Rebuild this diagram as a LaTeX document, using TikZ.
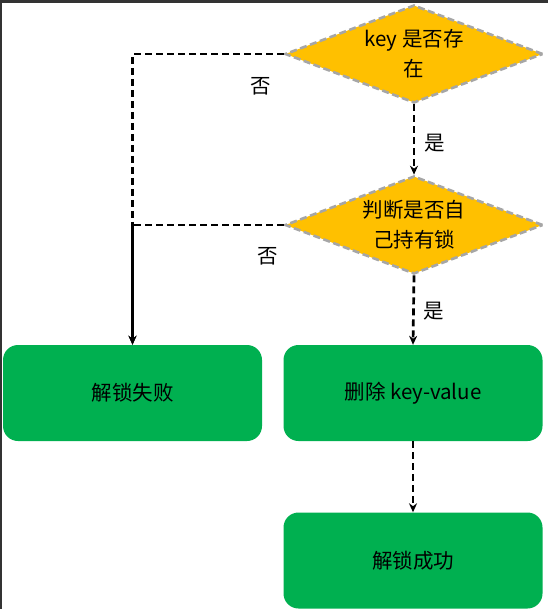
\documentclass[tikz,border=0pt]{standalone}
\usepackage{fontspec}
\setmainfont{Noto Sans CJK SC}
\usetikzlibrary{shapes.geometric,arrows.meta}
\definecolor{gold}{HTML}{FFC000}
\definecolor{grn}{HTML}{00B050}
\definecolor{dgray}{HTML}{A6A6A6}
\definecolor{framec}{HTML}{333333}
\begin{document}
\begin{tikzpicture}[x=1pt,y=-1pt,
  every node/.style={font=\fontsize{20.5pt}{30pt}\selectfont},
  decision/.style={diamond, aspect=2.63, inner sep=0pt, fill=gold, draw=dgray,
    line width=2.6pt, dash pattern=on 7pt off 3.5pt, minimum width=258pt,
    minimum height=98pt, align=center},
  box/.style={rectangle, rounded corners=15pt, fill=grn, minimum width=259pt,
    minimum height=96pt, align=center},
  flow/.style={draw=black, line width=2.7pt, dash pattern=on 7pt off 4pt,
    -{Stealth[length=9pt,width=8pt]}},
  lbl/.style={inner sep=0pt}]
\useasboundingbox (0,0) rectangle (548,609);
\fill[white] (0,0) rectangle (548,609);
\fill[framec] (0,0) rectangle (548,3);
\fill[framec] (0,0) rectangle (2,609);

\node[decision] (d1) at (414,54) {key 是否存\\在};
\node[decision] (d2) at (414,225) {判断是否自\\己持有锁};
\node[box] (fail) at (132.5,393) {解锁失败};
\node[box] (del) at (413,393) {删除 key-value};
\node[box] (ok) at (413,560.5) {解锁成功};

\draw[flow] (d1.south) -- (d2.north);
\draw[flow] (d2.south) -- (del.north);
\draw[flow] (del.south) -- (ok.north);
\draw[flow] (d1.west) -| (fail.north);
\draw[flow] (d2.west) -| (fail.north);

\node[lbl] (y1) at (435,143) {是};
\node[lbl] (y2) at (434,311) {是};
\node[lbl] (n1) at (261,86) {否};
\node[lbl] (n2) at (268,256) {否};
\end{tikzpicture}
\end{document}
